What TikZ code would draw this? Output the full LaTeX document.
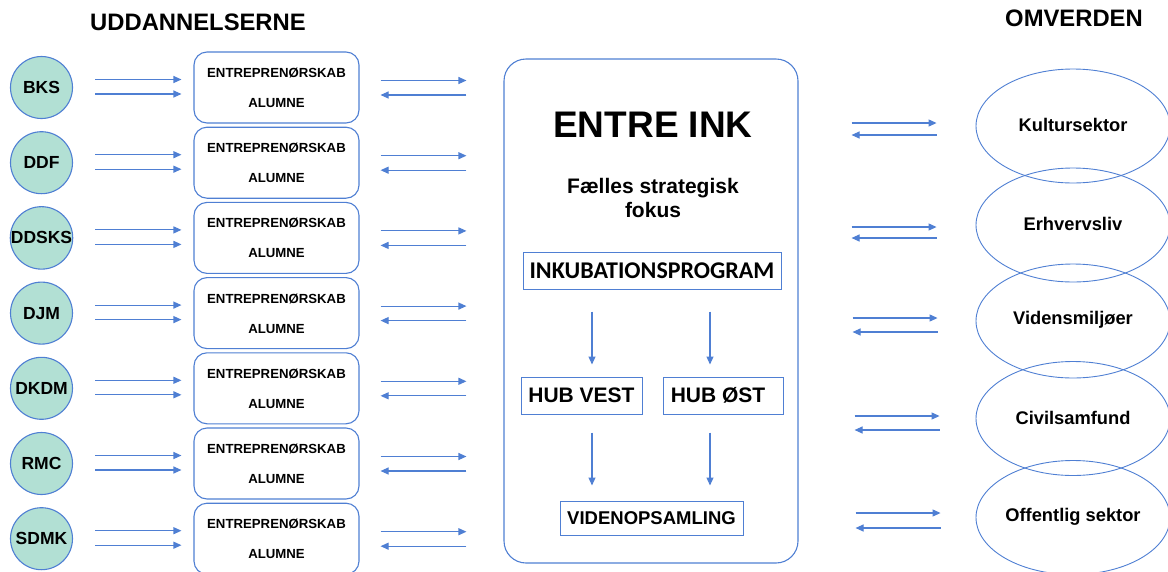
\documentclass[tikz,border=0pt]{standalone}
\usepackage{fontspec}
\setmainfont{Liberation Sans}
\newfontfamily\calib{Carlito}
\usetikzlibrary{arrows.meta,shapes.geometric}
\definecolor{lineblue}{HTML}{4F7FD3}
\definecolor{mint}{HTML}{B2E0D4}
\tikzset{
  school/.style={circle,draw=lineblue,line width=1.1pt,fill=mint,minimum size=62pt,inner sep=0pt,font=\fontsize{17.5}{20}\selectfont\bfseries},
  edubox/.style={draw=lineblue,line width=1.1pt,rounded corners=13pt,minimum width=165pt,minimum height=71pt,inner sep=0pt},
  smalltxt/.style={font=\fontsize{13.2}{15}\selectfont\bfseries,inner sep=0pt},
  arr/.style={draw=lineblue,line width=1.1pt,-{Triangle[length=8pt,width=7pt]}},
  bigbox/.style={draw=lineblue,line width=1.1pt,rounded corners=22pt,minimum width=294pt,minimum height=504pt,inner sep=0pt},
  sqbox/.style={draw=lineblue,line width=1pt,inner sep=0pt},
  world/.style={ellipse,draw=lineblue,line width=0.9pt,minimum width=194pt,minimum height=114pt,inner sep=0pt},
  worldtxt/.style={font=\fontsize{18.3}{20}\selectfont\bfseries,inner sep=0pt},
  header/.style={font=\fontsize{23.8}{26}\selectfont\bfseries,inner sep=0pt}
}
\begin{document}
\begin{tikzpicture}[x=1pt,y=-1pt]
\useasboundingbox (0,0) rectangle (1168,571);
% headers
\node[header] (hU) at (198,22) {UDDANNELSERNE};
\node[header] (hO) at (1074,18) {OMVERDEN};
% central box
\node[bigbox] (core) at (651,311) {};
\node[font=\fontsize{37}{40}\selectfont\bfseries,inner sep=0pt] (title) at (653,125) {ENTRE INK};
\node[font=\fontsize{21}{24}\selectfont\bfseries,align=center,inner sep=0pt] (focus) at (653,198) {Fælles strategisk\\fokus};
\node[sqbox,minimum width=258pt,minimum height=37pt,font=\calib\fontsize{24}{26}\selectfont\bfseries] (inkub) at (652,270.5) {INKUBATIONSPROGRAM};
\node[sqbox,minimum width=121pt,minimum height=37pt,font=\fontsize{21}{24}\selectfont\bfseries] (hubv) at (581.5,395.5) {HUB VEST};
\node[sqbox,minimum width=120pt,minimum height=37pt,font=\fontsize{21}{24}\selectfont\bfseries] (hubo) at (723,395.5) {\hspace*{-10pt}HUB ØST};
\node[sqbox,minimum width=183pt,minimum height=34pt,font=\fontsize{18.5}{22}\selectfont\bfseries] (viden) at (651.5,518) {VIDENOPSAMLING};
\draw[arr] ([xshift=10.5pt,yshift=65pt]hubv.north) -- ([xshift=10.5pt,yshift=12pt]hubv.north);
\draw[arr] ([xshift=-13pt,yshift=65pt]hubo.north) -- ([xshift=-13pt,yshift=12pt]hubo.north);
\draw[arr] ([xshift=10.5pt,yshift=-18pt]hubv.south) -- ([xshift=10.5pt,yshift=-71pt]hubv.south);
\draw[arr] ([xshift=-13pt,yshift=-18pt]hubo.south) -- ([xshift=-13pt,yshift=-71pt]hubo.south);
% left side
\foreach \i/\name in {1/BKS,2/DDF,3/DDSKS,4/DJM,5/DKDM,6/RMC,7/SDMK}{
  \pgfmathsetmacro{\cy}{87.5+75.2*(\i-1)}
  \node[school] (s\i) at (41.5,\cy) {\name};
  \node[edubox] (b\i) at (276.5,\cy) {};
  \node[smalltxt] (e\i) at (276.5,\cy-14.5) {ENTREPRENØRSKAB};
  \node[smalltxt] (a\i) at (276.5,\cy+15.5) {ALUMNE};
  \draw[arr] ([xshift=22pt,yshift=8pt]s\i.east) -- ([xshift=-12pt,yshift=8pt]b\i.west);
  \draw[arr] ([xshift=22pt,yshift=-6.5pt]s\i.east) -- ([xshift=-12pt,yshift=-6.5pt]b\i.west);
  \draw[arr] ([xshift=21pt,yshift=7pt]b\i.east) -- ([xshift=-37pt,yshift=7pt]b\i.east-|core.west);
  \draw[arr] ([xshift=-37pt,yshift=-7.5pt]b\i.east-|core.west) -- ([xshift=21pt,yshift=-7.5pt]b\i.east);
}
% right side
\foreach \i/\cy/\up/\dn/\dx/\name in {1/126/3/-9/0/Kultursektor,2/225/-2/-13/0/Erhvervsliv,3/321/3/-11/1/Vidensmiljøer,4/418.5/2.5/-11.5/3/Civilsamfund,5/517.5/4.5/-10.5/4/Offentlig sektor}{
  \node[world] (w\i) at (1073,\cy) {};
  \node[worldtxt] (t\i) at (1073,\cy-1) {\name};
  \draw[arr] ([xshift=53pt+\dx pt,yshift=\up pt]w\i.west-|core.east) -- ([xshift=-39pt+\dx pt,yshift=\up pt]w\i.west);
  \draw[arr] ([xshift=-39pt+\dx pt,yshift=\dn pt]w\i.west) -- ([xshift=53pt+\dx pt,yshift=\dn pt]w\i.west-|core.east);
}
\end{tikzpicture}
\end{document}
